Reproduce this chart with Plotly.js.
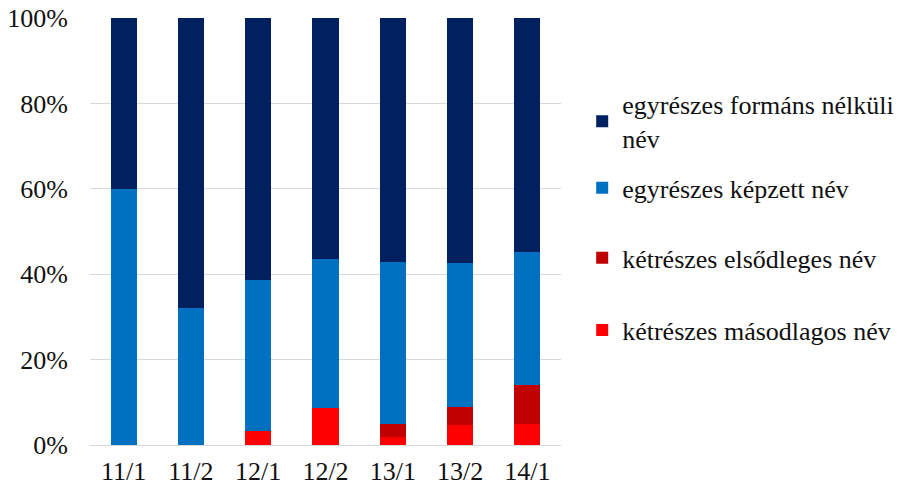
<!DOCTYPE html>
<html>
<head>
<meta charset="utf-8">
<script src="https://cdn.plot.ly/plotly-3.0.1.min.js"></script>
<style>
#chart .main-svg text { font-family: 'Liberation Serif', 'Times New Roman', serif !important; }
</style>
</head>
<body style="margin:0;background:#fff">
<div id="chart" style="width:902px;height:489px"></div>
<script>
const categories = ["11/1", "11/2", "12/1", "12/2", "13/1", "13/2", "14/1"];
const seriesNames = ["kétrészes másodlagos név", "kétrészes elsődleges név", "egyrészes képzett név", "egyrészes formáns nélküli<br>név"];
const masodlagos = [0, 0, 3.3, 8.7, 1.9, 4.7, 5.0];
const elsodleges = [0, 0, 0, 0, 3.1, 4.2, 9.1];
const kepzett = [60.0, 32.1, 35.3, 34.8, 37.9, 33.7, 31.1];
const formansNelkuli = [40.0, 67.9, 61.4, 56.5, 57.1, 57.4, 54.8];
const tickValues = [0, 20, 40, 60, 80, 100];
const tickLabels = ["0%", "20%", "40%", "60%", "80%", "100%"];
const colors = ["#FF0000", "#C00000", "#0070C0", "#002060"];

const values = [masodlagos, elsodleges, kepzett, formansNelkuli];
const legendIds = ["legend4", "legend3", "legend2", "legend"];
const FONT = "Liberation Serif";
const TXT = "#111111";
const traces = values.map((v, i) => ({
  type: "bar",
  x: categories,
  y: v,
  name: seriesNames[i],
  legend: legendIds[i],
  marker: {color: colors[i], line: {width: 0}}
}));

function leg(y) {
  return {
    x: 1.045, xanchor: "left",
    y: y, yanchor: "middle",
    bgcolor: "rgba(0,0,0,0)",
    font: {family: FONT, size: 26, color: TXT},
    itemwidth: 30
  };
}

const layout = {
  width: 902, height: 489,
  barmode: "stack",
  bargap: 0.61,
  margin: {l: 90, r: 341, t: 18, b: 44, autoexpand: false},
  paper_bgcolor: "#ffffff", plot_bgcolor: "#ffffff",
  font: {family: FONT, size: 26, color: TXT},
  xaxis: {
    type: "category",
    showgrid: false, zeroline: false,
    showline: true, linecolor: "#d9d9d9", linewidth: 1,
    ticks: "", ticklabelstandoff: 3,
    tickfont: {family: FONT, size: 26, color: TXT}
  },
  yaxis: {
    range: [0, 100],
    tickvals: tickValues,
    ticktext: tickLabels,
    showgrid: true, gridcolor: "#d9d9d9", gridwidth: 1,
    zeroline: false, showline: false,
    ticks: "", ticklabelstandoff: 21,
    tickfont: {family: FONT, size: 26, color: TXT}
  },
  showlegend: true,
  legend: leg(0.758),
  legend2: leg(0.602),
  legend3: leg(0.438),
  legend4: leg(0.269)
};

Plotly.newPlot("chart", traces, layout, {displayModeBar: false, staticPlot: true});
</script>
</body>
</html>
